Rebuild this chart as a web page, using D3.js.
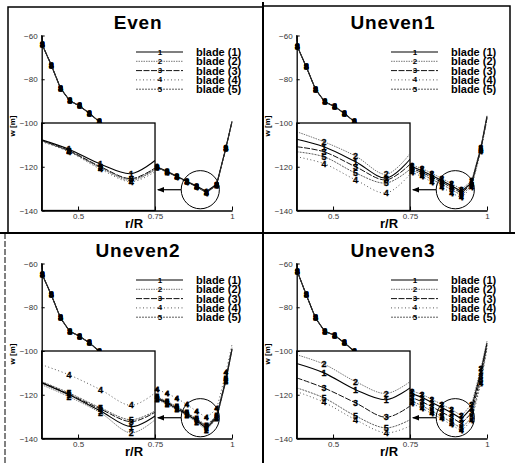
<!DOCTYPE html>
<html lang="en">
<head>
<meta charset="UTF-8">
<title>w vs r/R per blade</title>
<script src="https://d3js.org/d3.v7.min.js"></script>
<style>
  body { margin: 0; background: #fff; }
  svg { display: block; font-family: "Liberation Sans", Arial, sans-serif; }
</style>
</head>
<body>
<div id="chart"></div>
<script>
const panelTitles = ["Even", "Uneven1", "Uneven2", "Uneven3"];
const bladeNames = ["blade (1)", "blade (2)", "blade (3)", "blade (4)", "blade (5)"];
const bladeSymbols = ["1", "2", "3", "4", "5"];
const yTicks = [-60, -80, -100, -120, -140];
const xTicks = [0.5, 0.75, 1];
const xTickLabels = ["0.5", "0.75", "1"];

// inboard part of the curve (blades coincide here)
const rInner = [0.382, 0.384, 0.413, 0.443, 0.473, 0.505, 0.537, 0.569, 0.63, 0.69];
const wInnerEven    = [-60, -64.3, -73.5, -84.1, -89.8, -92.2, -95.6, -99.4, -106, -113];
const wInnerUneven1 = [-60, -65.0, -74.3, -84.6, -90.3, -92.5, -95.6, -99.4, -106, -113];
const wInnerUneven2 = [-60, -65.1, -74.3, -84.9, -91.0, -93.3, -96.3, -100.1, -106.5, -113.5];
const wInnerUneven3 = [-60, -63.6, -74.3, -84.9, -91.0, -92.8, -96.3, -100.1, -106.5, -113.5];

// outboard part, one row per blade (1..5)
const rOuter = [0.757, 0.789, 0.821, 0.853, 0.885, 0.917, 0.950, 0.980, 1.0];
const wOuterEven = [
    [-120.1, -122.1, -124.3, -126.6, -128.8, -131.3, -128.0, -111.4, -99.3],
    [-120.4, -122.4, -124.6, -126.9, -129.2, -131.9, -128.5, -111.7, -99.5],
    [-120.3, -122.3, -124.5, -126.8, -129.1, -131.7, -128.3, -111.6, -99.4],
    [-120.5, -122.5, -124.7, -127.0, -129.3, -132.0, -128.6, -111.8, -99.6],
    [-120.3, -122.3, -124.6, -126.8, -129.2, -131.8, -128.4, -111.6, -99.4]
];
const wOuterUneven1 = [
    [-120.0, -121.8, -124.0, -126.3, -128.7, -131.3, -127.3, -111.5, -97.0],
    [-119.3, -120.8, -123.0, -125.3, -127.7, -130.3, -126.5, -111.0, -96.5],
    [-120.8, -122.6, -124.8, -127.0, -129.5, -132.0, -128.0, -112.0, -97.5],
    [-122.6, -124.5, -127.0, -129.3, -132.0, -134.2, -129.3, -113.0, -98.5],
    [-121.6, -123.4, -125.8, -128.0, -130.5, -133.0, -128.6, -112.5, -98.0]
];
const wOuterUneven2 = [
    [-121.8, -123.8, -126.4, -128.9, -131.9, -135.3, -130.5, -113.5, -99.3],
    [-122.3, -124.3, -126.9, -129.5, -132.5, -136.2, -131.0, -114.0, -99.6],
    [-121.4, -123.4, -125.9, -128.4, -131.4, -134.6, -130.0, -113.0, -99.0],
    [-117.5, -119.5, -121.5, -124.5, -127.5, -130.5, -126.5, -110.0, -97.0],
    [-121.0, -123.0, -125.5, -128.0, -131.0, -134.0, -129.5, -112.5, -98.5]
];
const wOuterUneven3 = [
    [-119.5, -121.2, -123.5, -125.8, -128.2, -131.0, -126.0, -109.5, -96.3],
    [-118.3, -119.8, -122.1, -124.4, -126.7, -129.6, -124.4, -108.0, -95.5],
    [-121.3, -123.2, -125.5, -127.9, -130.4, -133.2, -128.3, -111.5, -97.2],
    [-124.0, -126.2, -128.6, -131.0, -133.8, -136.5, -131.8, -115.0, -99.0],
    [-123.0, -125.0, -127.5, -129.9, -132.6, -135.3, -130.5, -113.5, -98.2]
];

// magnified view of the circled region
const rZoom = [0.85, 0.874, 0.902, 0.929, 0.95];
const wZoomEven = [
    [-124.7, -126.2, -128.6, -130.1, -128.0],
    [-124.9, -126.5, -129.2, -131.2, -129.5],
    [-124.8, -126.4, -129.0, -130.9, -129.2],
    [-125.0, -126.6, -129.4, -131.4, -129.8],
    [-124.8, -126.5, -129.1, -131.0, -129.4]
];
const wZoomUneven1 = [
    [-124.6, -125.8, -128.2, -130.8, -127.8],
    [-123.4, -125.0, -127.3, -130.2, -126.9],
    [-125.8, -126.6, -129.0, -131.1, -128.6],
    [-127.4, -128.5, -131.1, -133.2, -130.2],
    [-126.6, -127.4, -130.0, -131.6, -129.4]
];
const wZoomUneven2 = [
    [-127.1, -129.0, -131.6, -134.1, -132.4],
    [-127.4, -129.3, -131.9, -135.1, -133.0],
    [-127.0, -128.9, -131.3, -133.3, -131.8],
    [-124.2, -125.8, -128.2, -130.7, -128.7],
    [-126.9, -128.7, -131.1, -133.0, -131.6]
];
const wZoomUneven3 = [
    [-124.0, -125.5, -128.2, -129.8, -127.9],
    [-122.6, -124.1, -126.9, -128.8, -126.9],
    [-126.3, -127.9, -130.3, -132.6, -130.8],
    [-128.5, -130.2, -133.0, -135.1, -134.0],
    [-127.9, -129.5, -132.4, -134.3, -133.0]
];

// circled region (centre in data units, radius in r units)
const circleR = 0.897, circleW = -130.5, circleRad = 0.062;

const panels = [
    {title: panelTitles[0], inner: wInnerEven, outer: wOuterEven, zoom: wZoomEven},
    {title: panelTitles[1], inner: wInnerUneven1, outer: wOuterUneven1, zoom: wZoomUneven1},
    {title: panelTitles[2], inner: wInnerUneven2, outer: wOuterUneven2, zoom: wZoomUneven2},
    {title: panelTitles[3], inner: wInnerUneven3, outer: wOuterUneven3, zoom: wZoomUneven3}
];
const panelPos = [[0, 0], [255, 0], [0, 228], [255, 228]];

const bladeStyle = [
    {stroke: "#000", width: 1.1, dash: null},
    {stroke: "#555", width: 0.8, dash: "1.5,1"},
    {stroke: "#111", width: 1.0, dash: "6,1.5"},
    {stroke: "#444", width: 0.9, dash: "1,2.5"},
    {stroke: "#333", width: 0.8, dash: "2,1"}
];

const width = 515, height = 463;
const svg = d3.select("#chart").append("svg")
    .attr("width", width)
    .attr("height", height);

svg.append("defs").append("marker")
    .attr("id", "arrow")
    .attr("viewBox", "0 0 10 10")
    .attr("refX", 9).attr("refY", 5)
    .attr("markerWidth", 6).attr("markerHeight", 6)
    .attr("orient", "auto")
    .append("path")
    .attr("d", "M0,1 L10,5 L0,9 Z")
    .attr("fill", "#000");

// frame lines between panels
svg.append("line").attr("x1", 263).attr("x2", 263).attr("y1", 2).attr("y2", height)
    .attr("stroke", "#000").attr("stroke-width", 2);
svg.append("line").attr("x1", 0).attr("x2", width).attr("y1", 233).attr("y2", 233)
    .attr("stroke", "#000").attr("stroke-width", 2);
svg.append("path").attr("d", "M8,233 V7 H263")
    .attr("fill", "none").attr("stroke", "#000").attr("stroke-width", 1.5);
svg.append("path").attr("d", "M263,6 H510 V233")
    .attr("fill", "none").attr("stroke", "#000").attr("stroke-width", 1.5);
svg.append("line").attr("x1", 5).attr("x2", 5).attr("y1", 233).attr("y2", height)
    .attr("stroke", "#000").attr("stroke-width", 1).attr("stroke-dasharray", "6,2");

const x = d3.scaleLinear().domain([0.382, 1.0]).range([41.7, 232]);
const y = d3.scaleLinear().domain([-60, -140]).range([35.5, 210.5]);
const xi = d3.scaleLinear().domain([0.85, 0.95]).range([x(0.382), x(0.75)]);
const yi = d3.scaleLinear().domain([-122, -136]).range([y(-100), y(-140)]);

const mainLine = d3.line().x(d => x(d[0])).y(d => y(d[1]));
const zoomLine = d3.line().x(d => xi(d[0])).y(d => yi(d[1])).curve(d3.curveCatmullRom);

function styleLine(sel, b) {
    sel.attr("fill", "none")
        .attr("stroke", bladeStyle[b].stroke)
        .attr("stroke-width", bladeStyle[b].width)
        .attr("stroke-dasharray", bladeStyle[b].dash);
}

// Tecplot-like symbols: the blade number drawn at each point
function symbols(g, pts, b, fx, fy, size, halo) {
    g.selectAll(null).data(pts).enter().append("text")
        .attr("x", d => fx(d[0]))
        .attr("y", d => fy(d[1]))
        .attr("text-anchor", "middle")
        .attr("dominant-baseline", "central")
        .attr("font-size", size)
        .attr("font-weight", "bold")
        .attr("stroke", "#000")
        .attr("stroke-width", halo)
        .text(bladeSymbols[b]);
}

panels.forEach((p, k) => {
    const g = svg.append("g")
        .attr("transform", "translate(" + panelPos[k][0] + "," + panelPos[k][1] + ")");

    // main curves
    for (let b = 0; b < 5; b++) {
        const inner = rInner.map((r, i) => [r, p.inner[i]]);
        const outer = rOuter.map((r, i) => [r, p.outer[b][i]]);
        g.append("path").attr("d", mainLine(inner.concat(outer))).call(styleLine, b);
        symbols(g, inner.slice(1), b, x, y, 7.5, 0.8);
    }

    // inset box
    const clipId = "clip" + k;
    g.append("clipPath").attr("id", clipId).append("rect")
        .attr("x", x(0.382)).attr("y", y(-100))
        .attr("width", x(0.75) - x(0.382)).attr("height", y(-140) - y(-100));
    g.append("rect")
        .attr("x", x(0.382)).attr("y", y(-100))
        .attr("width", x(0.75) - x(0.382)).attr("height", y(-140) - y(-100))
        .attr("fill", "#fff").attr("stroke", "#000").attr("stroke-width", 1.3);
    const gi = g.append("g").attr("clip-path", "url(#" + clipId + ")");
    for (let b = 0; b < 5; b++) {
        const pts = rZoom.map((r, i) => [r, p.zoom[b][i]]);
        gi.append("path").attr("d", zoomLine(pts)).call(styleLine, b);
        symbols(gi, pts.slice(1, 4), b, xi, yi, 9, 0.3);
    }

    // outboard symbols on top of the inset edge
    for (let b = 0; b < 5; b++) {
        const outer = rOuter.map((r, i) => [r, p.outer[b][i]]);
        symbols(g, outer.slice(0, 8), b, x, y, 7.5, 0.8);
    }

    // circle and arrow
    const rad = x(circleR + circleRad) - x(circleR);
    g.append("circle")
        .attr("cx", x(circleR)).attr("cy", y(circleW)).attr("r", rad)
        .attr("fill", "none").attr("stroke", "#000").attr("stroke-width", 1);
    g.append("line")
        .attr("x1", x(circleR) - rad).attr("y1", y(circleW))
        .attr("x2", x(0.759)).attr("y2", y(circleW))
        .attr("stroke", "#000").attr("stroke-width", 1.2)
        .attr("marker-end", "url(#arrow)");

    // axes
    const yAxis = d3.axisLeft(y).tickValues(yTicks).tickSizeInner(-3).tickSizeOuter(0).tickPadding(4);
    const xAxis = d3.axisBottom(x).tickValues(xTicks).tickSizeInner(-4).tickSizeOuter(0).tickPadding(3)
        .tickFormat((d, i) => xTickLabels[i]);
    const ya = g.append("g").attr("transform", "translate(" + x(0.382) + ",0)").call(yAxis);
    const xa = g.append("g").attr("transform", "translate(0," + y(-140) + ")").call(xAxis);
    [ya, xa].forEach(a => {
        a.attr("font-family", null).attr("font-size", null);
        a.select(".domain").attr("stroke", "#000").attr("stroke-width", 1.3);
        a.selectAll(".tick line").attr("stroke", "#000");
        a.selectAll(".tick text").attr("font-size", 8).attr("fill", "#333");
    });

    // legend
    bladeNames.forEach((name, b) => {
        const ly = 52 + b * 9.3;
        g.append("line").attr("x1", 136).attr("x2", 183).attr("y1", ly).attr("y2", ly).call(styleLine, b);
        g.append("text").attr("x", 160).attr("y", ly)
            .attr("text-anchor", "middle").attr("dominant-baseline", "central")
            .attr("font-size", 8).attr("font-weight", "bold").text(bladeSymbols[b]);
        g.append("text").attr("x", 196).attr("y", ly)
            .attr("dominant-baseline", "central")
            .attr("font-size", 11).attr("font-weight", "bold").text(name);
    });

    // titles
    g.append("text").attr("x", 138).attr("y", 29)
        .attr("text-anchor", "middle").attr("font-size", 19).attr("font-weight", "bold")
        .attr("letter-spacing", 0.8).text(p.title);
    g.append("text").attr("x", 134).attr("y", 228)
        .attr("text-anchor", "middle").attr("font-size", 13).attr("font-weight", "bold")
        .text("r/R");
    g.append("text").attr("transform", "translate(15,126) rotate(-90)")
        .attr("text-anchor", "middle").attr("font-size", 8).attr("font-weight", "bold")
        .text("w [m]");
});
</script>
</body>
</html>
